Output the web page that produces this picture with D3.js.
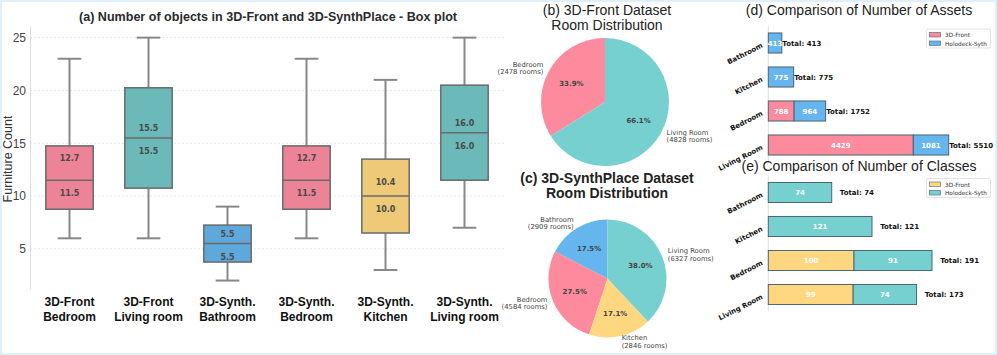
<!DOCTYPE html>
<html>
<head>
<meta charset="utf-8">
<script src="https://cdn.jsdelivr.net/npm/d3@7"></script>
<style>
  body { margin: 0; background: #fff; }
  svg { display: block; }
</style>
</head>
<body>
<div id="chart"></div>
<script>
// (a) box plot
const boxLabels = [["3D-Front", "Bedroom"], ["3D-Front", "Living room"], ["3D-Synth.", "Bathroom"],
  ["3D-Synth.", "Bedroom"], ["3D-Synth.", "Kitchen"], ["3D-Synth.", "Living room"]];
const boxMin = [6, 6, 2, 6, 3, 7];
const boxQ1 = [8.75, 10.75, 3.75, 8.75, 6.5, 11.5];
const boxMedian = [11.5, 15.5, 5.5, 11.5, 10.0, 16.0];
const boxQ3 = [14.75, 20.25, 7.25, 14.75, 13.5, 20.5];
const boxMax = [23, 25, 9, 23, 21, 25];
const boxMean = [12.7, 15.5, 5.5, 12.7, 10.4, 16.0];
const boxColors = ["#ec8396", "#6bbab9", "#5fa8db", "#ec8396", "#edc978", "#6bbab9"];
const boxTicks = [5, 10, 15, 20, 25];

// (b) and (c) pies
const frontRooms = ["Bedroom", "Living Room"];
const frontCounts = [2478, 4828];
const frontColors = ["#fd8a9d", "#76d0cf"];
const synthRooms = ["Bathroom", "Bedroom", "Kitchen", "Living Room"];
const synthCounts = [2909, 4584, 2846, 6327];
const synthColors = ["#65b6ee", "#fd8a9d", "#fed780", "#76d0cf"];

// (d) and (e) stacked bars
const barRooms = ["Bathroom", "Kitchen", "Bedroom", "Living Room"];
const assetsFront = [0, 0, 788, 4429];
const assetsHolo = [413, 775, 964, 1081];
const classesFront = [0, 0, 100, 99];
const classesHolo = [74, 121, 91, 74];

const W = 997, H = 355;
const svg = d3.select("#chart").append("svg")
  .attr("width", W).attr("height", H)
  .attr("viewBox", `0 0 ${W} ${H}`);

svg.append("rect").attr("x", 1).attr("y", 1).attr("width", W - 2).attr("height", H - 2)
  .attr("fill", "#fff").attr("stroke", "#e0f0fa").attr("stroke-width", 2);

const SANS = "'Liberation Sans', Arial, sans-serif";
const DEJA = "'DejaVu Sans', sans-serif";

// ---------- (a) box plot ----------
const x = d3.scaleBand().domain(d3.range(boxLabels.length)).range([30, 504]).padding(0);
const y = d3.scaleLinear().domain([1.2, 26.1]).range([289, 26]);

const ga = svg.append("g");
ga.append("text").attr("x", 268).attr("y", 21).attr("text-anchor", "middle")
  .attr("font-family", SANS).attr("font-weight", "bold").attr("font-size", 13).attr("fill", "#2a2a2a")
  .attr("textLength", 378).attr("lengthAdjust", "spacingAndGlyphs")
  .text("(a)  Number of objects in 3D-Front and 3D-SynthPlace - Box plot");

// gridlines
ga.append("g").selectAll("line").data(boxTicks).join("line")
  .attr("x1", 30).attr("x2", 504)
  .attr("y1", d => y(d)).attr("y2", d => y(d))
  .attr("stroke", "#e6e6e6").attr("stroke-dasharray", "2,2");

const yAxis = ga.append("g").attr("transform", "translate(30,0)")
  .call(d3.axisLeft(y).tickValues(boxTicks).tickSize(0).tickPadding(4));
yAxis.select(".domain").attr("stroke", "#dcdcdc");
yAxis.selectAll("text").attr("font-family", SANS).attr("font-size", 12).attr("fill", "#444");

ga.append("text").attr("transform", "translate(12,159) rotate(-90)").attr("text-anchor", "middle")
  .attr("font-family", SANS).attr("font-size", 12.5).attr("fill", "#333").text("Furniture Count");

const bw = x.bandwidth() * 0.6;
const boxes = ga.append("g").selectAll("g").data(boxLabels).join("g")
  .attr("transform", (d, i) => `translate(${x(i) + x.bandwidth() / 2},0)`);

boxes.append("line").attr("y1", (d, i) => y(boxMax[i])).attr("y2", (d, i) => y(boxQ3[i]))
  .attr("stroke", "#888").attr("stroke-width", 2);
boxes.append("line").attr("y1", (d, i) => y(boxMin[i])).attr("y2", (d, i) => y(boxQ1[i]))
  .attr("stroke", "#888").attr("stroke-width", 2);
boxes.append("line").attr("x1", -bw / 4).attr("x2", bw / 4)
  .attr("y1", (d, i) => y(boxMax[i])).attr("y2", (d, i) => y(boxMax[i]))
  .attr("stroke", "#888").attr("stroke-width", 2);
boxes.append("line").attr("x1", -bw / 4).attr("x2", bw / 4)
  .attr("y1", (d, i) => y(boxMin[i])).attr("y2", (d, i) => y(boxMin[i]))
  .attr("stroke", "#888").attr("stroke-width", 2);
boxes.append("rect").attr("x", -bw / 2).attr("width", bw)
  .attr("y", (d, i) => y(boxQ3[i])).attr("height", (d, i) => y(boxQ1[i]) - y(boxQ3[i]))
  .attr("fill", (d, i) => boxColors[i]).attr("stroke", "#6a6a6a").attr("stroke-width", 1.5);
boxes.append("line").attr("x1", -bw / 2).attr("x2", bw / 2)
  .attr("y1", (d, i) => y(boxMedian[i])).attr("y2", (d, i) => y(boxMedian[i]))
  .attr("stroke", "#6a6a6a").attr("stroke-width", 1.5);
boxes.append("text").attr("text-anchor", "middle").attr("y", (d, i) => y(boxMean[i]) - 10 + 3)
  .attr("font-family", DEJA).attr("font-weight", "bold").attr("font-size", 8).attr("fill", "#4a4a4a")
  .text((d, i) => boxMean[i].toFixed(1));
boxes.append("text").attr("text-anchor", "middle").attr("y", (d, i) => y(boxMedian[i]) + 13 + 3)
  .attr("font-family", DEJA).attr("font-weight", "bold").attr("font-size", 8).attr("fill", "#4a4a4a")
  .text((d, i) => boxMedian[i].toFixed(1));
boxes.append("text").attr("text-anchor", "middle").attr("y", 306)
  .attr("font-family", SANS).attr("font-weight", "bold").attr("font-size", 12).attr("fill", "#111")
  .selectAll("tspan").data(d => d).join("tspan")
  .attr("x", 0).attr("dy", (d, j) => j ? 15 : 0).text(d => d);

// ---------- pies ----------
function drawPie(cx, cy, r, rooms, counts, colors, title) {
  const g = svg.append("g");
  const total = d3.sum(counts);
  // matplotlib style: start at 12 o'clock, counter-clockwise
  const arcs = d3.pie().sort(null).startAngle(0).endAngle(-2 * Math.PI)(counts);
  const arc = d3.arc().innerRadius(0).outerRadius(r);
  g.selectAll("path").data(arcs).join("path")
    .attr("transform", `translate(${cx},${cy})`)
    .attr("d", arc).attr("fill", (d, i) => colors[i]);

  arcs.forEach((a, i) => {
    const mid = (a.startAngle + a.endAngle) / 2;
    const sx = Math.sin(mid), sy = -Math.cos(mid);
    g.append("text").attr("x", cx + sx * r * 0.6).attr("y", cy + sy * r * 0.6 + 2.5)
      .attr("text-anchor", "middle").attr("font-family", DEJA).attr("font-size", 7)
      .attr("font-weight", "bold").attr("fill", "#444")
      .text((counts[i] / total * 100).toFixed(1) + "%");
    const lx = cx + sx * r * 1.1, ly = cy + sy * r * 1.1;
    const t = g.append("text").attr("text-anchor", sx >= 0 ? "start" : "end")
      .attr("font-family", DEJA).attr("font-size", 6.8).attr("fill", "#444");
    [rooms[i], `(${counts[i]} rooms)`].forEach((s, j) => {
      t.append("tspan").attr("x", lx).attr("y", ly - 3.8 + j * 7.6 + 2.4).text(s);
    });
  });

  g.append("text").attr("text-anchor", "middle").attr("font-family", SANS)
    .attr("font-size", 14).attr("fill", "#222").attr("font-weight", title.bold ? "bold" : "normal")
    .selectAll("tspan").data(title.lines).join("tspan")
    .attr("x", title.x).attr("y", (d, j) => title.y + j * 15).text(d => d);
}

drawPie(605, 102, 64, frontRooms, frontCounts, frontColors,
  { x: 607, y: 15, lines: ["(b)  3D-Front Dataset", "Room Distribution"] });
drawPie(607.5, 278.5, 59, synthRooms, synthCounts, synthColors,
  { x: 607, y: 183, bold: true, lines: ["(c) 3D-SynthPlace Dataset", "Room Distribution"] });

// ---------- stacked bars ----------
function drawBars(top, titleY, front, holo, frontColor, holoColor, title, pxPerUnit, totalOffset) {
  const g = svg.append("g");
  const x0 = 768.3, x1 = 991;
  const xs = d3.scaleLinear().domain([0, (x1 - x0) / pxPerUnit]).range([x0, x1]);
  const ys = d3.scaleBand().domain(barRooms).range([top, top + 34 * barRooms.length])
    .paddingInner(0.41).paddingOuter(0.205);

  g.append("text").attr("x", 859).attr("y", titleY).attr("text-anchor", "middle")
    .attr("font-family", SANS).attr("font-size", 14).attr("fill", "#222").text(title);

  g.append("line").attr("x1", x0).attr("x2", x0).attr("y1", top).attr("y2", top + 34 * barRooms.length)
    .attr("stroke", "#e2e2e2");

  const rows = g.selectAll("g.row").data(barRooms).join("g").attr("class", "row");
  const edge = "#4b6470";
  rows.append("rect").attr("x", xs(0)).attr("y", d => ys(d)).attr("height", ys.bandwidth())
    .attr("width", (d, i) => xs(front[i]) - xs(0))
    .attr("fill", frontColor).attr("stroke", edge).attr("stroke-width", 1)
    .style("display", (d, i) => front[i] > 0 ? null : "none");
  rows.append("rect").attr("x", (d, i) => xs(front[i])).attr("y", d => ys(d)).attr("height", ys.bandwidth())
    .attr("width", (d, i) => xs(front[i] + holo[i]) - xs(front[i]))
    .attr("fill", holoColor).attr("stroke", edge).attr("stroke-width", 1);

  const vt = (xv, s) => rows.append("text").attr("x", xv).attr("y", d => ys(d) + ys.bandwidth() / 2 + 2.5)
    .attr("text-anchor", "middle").attr("font-family", DEJA).attr("font-weight", "bold")
    .attr("font-size", 7).attr("fill", "#fff").text(s);
  vt((d, i) => xs(front[i] / 2), (d, i) => front[i] > 0 ? front[i] : "");
  vt((d, i) => xs(front[i] + holo[i] / 2), (d, i) => holo[i]);

  rows.append("text").attr("x", (d, i) => xs(front[i] + holo[i] + totalOffset))
    .attr("y", d => ys(d) + ys.bandwidth() / 2 + 2.5)
    .attr("font-family", DEJA).attr("font-weight", "bold").attr("font-size", 7).attr("fill", "#111")
    .text((d, i) => "Total: " + (front[i] + holo[i]));

  rows.append("text")
    .attr("transform", d => `translate(${x0 - 5},${ys(d) + ys.bandwidth() / 2 + 4}) rotate(-27)`)
    .attr("text-anchor", "end").attr("font-family", DEJA).attr("font-weight", "bold")
    .attr("font-size", 7).attr("fill", "#111").text(d => d);

  // legend
  const lg = g.append("g").attr("transform", `translate(926.5,${top + 3})`);
  lg.append("rect").attr("width", 64).attr("height", 19).attr("fill", "#fff")
    .attr("stroke", "#e2e2e2").attr("rx", 1.5);
  [["3D-Front", frontColor], ["Holodeck-Syth", holoColor]].forEach((e, j) => {
    lg.append("rect").attr("x", 3).attr("y", 3.5 + j * 8.5).attr("width", 11).attr("height", 4.5)
      .attr("fill", e[1]).attr("stroke", edge).attr("stroke-width", 0.6);
    lg.append("text").attr("x", 18.5).attr("y", 8.2 + j * 8.5).attr("font-family", DEJA)
      .attr("font-size", 5.8).attr("fill", "#333").text(e[0]);
  });
}

drawBars(26, 15, assetsFront, assetsHolo, "#fd8a9d", "#65b6ee",
  "(d) Comparison of Number of Assets", 0.03274, 15);
drawBars(175.5, 171, classesFront, classesHolo, "#fed780", "#76d0cf",
  "(e) Comparison of Number of Classes", 0.857, 9.5);
</script>
</body>
</html>
